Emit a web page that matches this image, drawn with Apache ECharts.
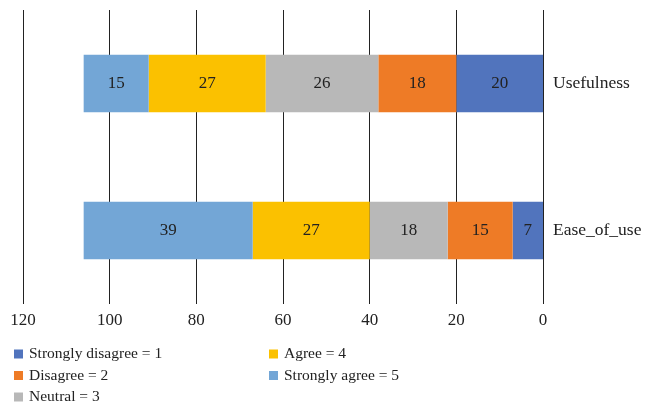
<!DOCTYPE html>
<html>
<head>
<meta charset="utf-8">
<script src="https://cdn.jsdelivr.net/npm/echarts@6/dist/echarts.min.js"></script>
<style>
  html, body { margin: 0; padding: 0; background: #fff; }
  #chart { width: 645px; height: 404px; }
</style>
</head>
<body>
<div id="chart"></div>
<script>
// Survey responses per construct, stacked from the right (0) leftwards
var categories = ['Ease_of_use', 'Usefulness'];
var seriesNames = ['Strongly disagree = 1', 'Disagree = 2', 'Neutral = 3', 'Agree = 4', 'Strongly agree = 5'];
var stronglyDisagree = [7, 20];
var disagree = [15, 18];
var neutral = [18, 26];
var agree = [27, 27];
var stronglyAgree = [39, 15];
var xTicks = [0, 20, 40, 60, 80, 100, 120];

var values = [stronglyDisagree, disagree, neutral, agree, stronglyAgree];
var colors = ['#5174BD', '#EE7B26', '#B8B8B8', '#FBC100', '#73A6D6'];
var font = '"Liberation Serif", "DejaVu Serif", serif';

var chart = echarts.init(document.getElementById('chart'), null, { renderer: 'canvas' });

var series = seriesNames.map(function (name, i) {
  return {
    name: name,
    type: 'bar',
    stack: 'total',
    barWidth: '39%',
    data: values[i],
    itemStyle: { color: colors[i] },
    label: {
      show: true,
      position: 'inside',
      color: '#222',
      fontFamily: font,
      fontSize: 17
    },
    emphasis: { disabled: true }
  };
});

function legendColumn(names, left) {
  return {
    data: names,
    orient: 'vertical',
    left: left,
    top: 341,
    height: 90,
    itemWidth: 9,
    itemHeight: 9,
    itemGap: 5.5,
    icon: 'rect',
    selectedMode: false,
    textStyle: { color: '#222', fontFamily: font, fontSize: 15.5, padding: [0, 0, 0, 1] }
  };
}

chart.setOption({
  animation: false,
  textStyle: { fontFamily: font },
  grid: { left: 23, right: 102, top: 10, bottom: 100, containLabel: false },
  xAxis: {
    type: 'value',
    inverse: true,
    min: xTicks[0],
    max: xTicks[xTicks.length - 1],
    interval: 20,
    axisLine: { show: false },
    axisTick: { show: false },
    axisLabel: { color: '#222', fontFamily: font, fontSize: 17, margin: 8 },
    splitLine: { show: true, lineStyle: { color: '#222', width: 1 } }
  },
  yAxis: {
    type: 'category',
    data: categories,
    position: 'right',
    axisLine: { show: false },
    axisTick: { show: false },
    axisLabel: { color: '#222', fontFamily: font, fontSize: 17.5, margin: 10 }
  },
  legend: [
    legendColumn(seriesNames.slice(0, 3), 9),
    legendColumn(seriesNames.slice(3), 264)
  ],
  series: series
});
</script>
</body>
</html>
